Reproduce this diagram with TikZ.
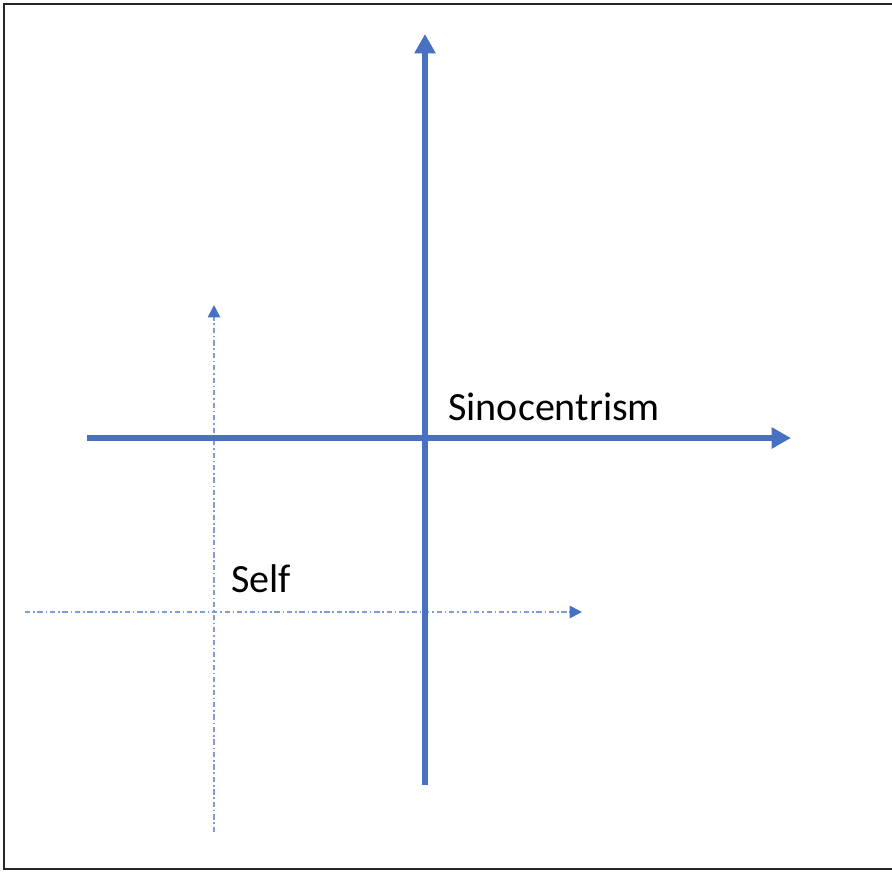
\documentclass[tikz,border=0pt]{standalone}
\usepackage{fontspec}
\setmainfont{Carlito}
\usetikzlibrary{arrows.meta}
\definecolor{axisblue}{RGB}{72,113,196}
\begin{document}
\begin{tikzpicture}[x=0.02cm, y=-0.02cm]

% --- Define Styles ---
\tikzset{
    frame/.style={draw=black!85, line width=1.4pt},
    mainaxis/.style={-{Triangle[length=11pt, width=11.5pt]}, axisblue, line width=3.4pt},
    selfaxis/.style={-{Triangle[length=7pt, width=7pt, color=axisblue]}, axisblue!70, line width=0.9pt, dash pattern=on 3pt off 1.6pt on 0.9pt off 1.6pt},
    lbl/.style={font=\fontsize{22.8}{27}\selectfont, anchor=base west, inner sep=0pt}
}

\useasboundingbox (0,0) rectangle (892,872);
\draw[frame] (892,4) -- (4,4) -- (4,869) -- (892,869);

% ================= SELF (dash-dot) =================
\coordinate (selfbottom) at (214,832);
\coordinate (selftop) at (214,305);
\coordinate (selfleft) at (25,612);
\coordinate (selfright) at (582,612);
\draw[selfaxis] (selfbottom) -- (selftop);
\draw[selfaxis] (selfleft) -- (selfright);
\node[lbl] (self) at (231,592) {Self};

% ================= SINOCENTRISM =================
\coordinate (sinobottom) at (425,785);
\coordinate (sinotop) at (425,34);
\coordinate (sinoleft) at (87,438);
\coordinate (sinoright) at (791,438);
\draw[mainaxis] (sinobottom) -- (sinotop);
\draw[mainaxis] (sinoleft) -- (sinoright);
\node[lbl] (sino) at (448,420) {Sinocentrism};

\end{tikzpicture}
\end{document}
